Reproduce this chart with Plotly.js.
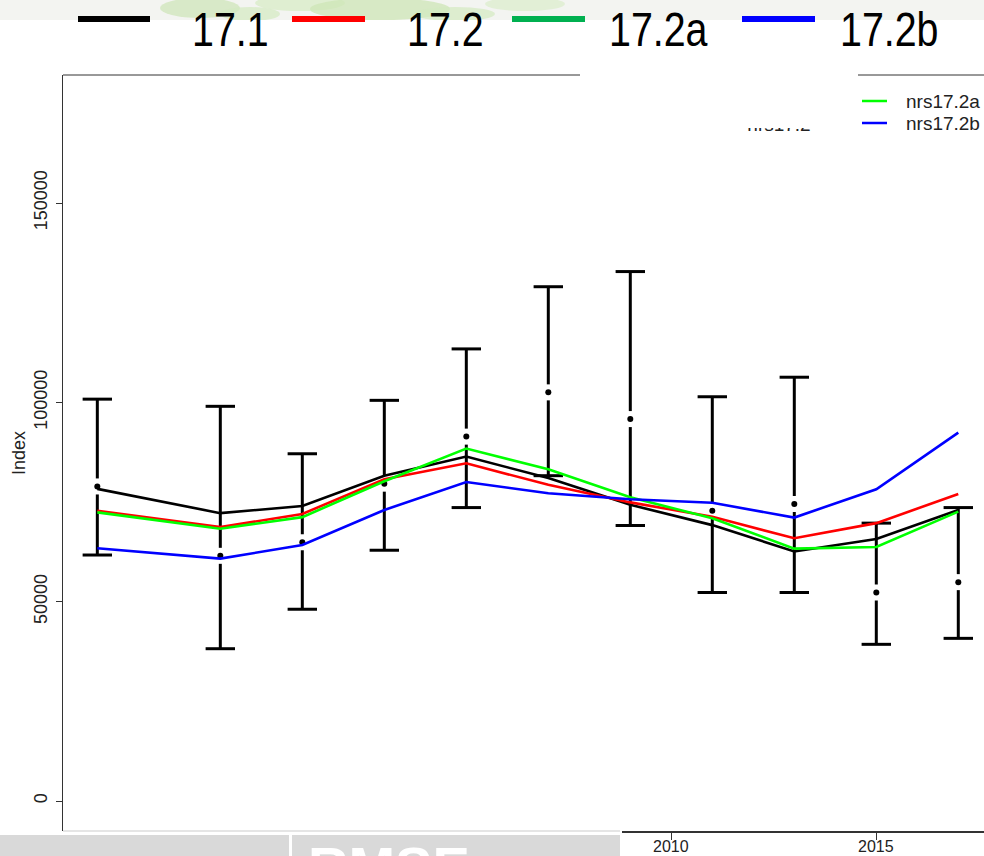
<!DOCTYPE html>
<html>
<head>
<meta charset="utf-8">
<script src="https://cdn.plot.ly/plotly-3.0.1.min.js"></script>
<style>html,body{margin:0;padding:0;background:#fff;}#chart{width:984px;height:856px;}</style>
</head>
<body>
<div id="chart"></div>
<script>
// ---------------- data ----------------
const years      = [1996, 1999, 2001, 2003, 2005, 2007, 2009, 2011, 2013, 2015, 2017];
const s171       = [78300, 72200, 74000, 81600, 86400, 81000, 74300, 69200, 62600, 65700, 73000];
const s172       = [72800, 68700, 72000, 80700, 84700, 79300, 74900, 71300, 65900, 69700, 77000];
const s172a      = [72400, 68300, 71200, 80200, 88400, 83200, 76200, 70900, 63300, 63700, 72600];
const s172b      = [63400, 60800, 64200, 73000, 80000, 77200, 75700, 74800, 71100, 78200, 92400];
const obsIndex   = [78900, 61500, 64900, 79600, 91400, 102500, 95800, 72800, 74500, 52300, 54900];
const obsUpper   = [100800, 99000, 87100, 100500, 113400, 129000, 132800, 101400, 106300, 69700, 73600];
const obsLower   = [61700, 38200, 48100, 62900, 73600, 81600, 69100, 52300, 52300, 39300, 40800];
const yTickVals  = [0, 50000, 100000, 150000];
const yTickText  = ['0', '50000', '100000', '150000'];
const xTickVals  = [2010, 2015];
const xTickText  = ['2010', '2015'];
const topLegendNames  = ['17.1', '17.2', '17.2a', '17.2b'];
const topLegendColors = ['#000000', '#ff0000', '#00b050', '#0000ff'];
const rLegendNames    = ['nrs17.2a', 'nrs17.2b'];
const rLegendColors   = ['#00ff00', '#0000ff'];
const hiddenLegendName = 'nrs17.2';
const panelLabel = 'RMSE';

// ---------------- geometry ----------------
const W = 984, H = 856, ML = 63, MR = 0, MT = 75, MB = 25;
const plotW = W - ML - MR, plotH = H - MT - MB;
const xRange = [1995.163, 2017.627];
const yRange = [-7525, 182108];
const xp = px => (px - ML) / plotW;
const yp = py => (H - MB - py) / plotH;
const pxPerYear = plotW / (xRange[1] - xRange[0]);
const unitsPerPx = (yRange[1] - yRange[0]) / plotH;
const gap = 8 * unitsPerPx;

const FONT = 'Liberation Sans, Arial, Helvetica, sans-serif';

// error-bar stems with a gap around the point
const ebX = [], ebY = [];
years.forEach((yr, i) => {
  ebX.push(yr, yr, null, yr, yr, null);
  ebY.push(obsIndex[i] + gap, obsUpper[i], null, obsIndex[i] - gap, obsLower[i], null);
});

const traces = [
  {x: ebX, y: ebY, mode: 'lines', line: {color: '#000', width: 3}, connectgaps: false,
   showlegend: false, hoverinfo: 'skip'},
  {x: years.concat(years), y: obsUpper.concat(obsLower), mode: 'markers',
   marker: {symbol: 'line-ew', size: 21, color: '#000', line: {color: '#000', width: 3}},
   showlegend: false, hoverinfo: 'skip'},
  {x: years, y: obsIndex, mode: 'markers', marker: {symbol: 'circle', size: 6, color: '#000'},
   showlegend: false},
  {x: years, y: s171, mode: 'lines', line: {color: '#000000', width: 2.6}, name: '17.1', showlegend: false},
  {x: years, y: s172, mode: 'lines', line: {color: '#ff0000', width: 2.6}, name: 'nrs17.2', showlegend: false},
  {x: years, y: s172a, mode: 'lines', line: {color: '#00ff00', width: 2.6}, name: 'nrs17.2a', showlegend: false},
  {x: years, y: s172b, mode: 'lines', line: {color: '#0000ff', width: 2.6}, name: 'nrs17.2b', showlegend: false},
  {x: [xTickVals[0]], y: [null], xaxis: 'x2', yaxis: 'y', mode: 'markers', showlegend: false, hoverinfo: 'skip'},
  {x: [0.5], y: [1.12], xaxis: 'x3', yaxis: 'y3', mode: 'text', text: [hiddenLegendName],
   textposition: 'middle center', textfont: {family: FONT, size: 19, color: '#222'},
   cliponaxis: true, showlegend: false, hoverinfo: 'skip'}
];

const shapes = [];
const annotations = [];
function rect(x0, y0, x1, y1, fill) {
  shapes.push({type: 'rect', xref: 'paper', yref: 'paper',
    x0: xp(x0), x1: xp(x1), y0: yp(y1), y1: yp(y0), fillcolor: fill, line: {width: 0}, layer: 'below'});
}
function hline(x0, x1, y, color, width) {
  shapes.push({type: 'line', xref: 'paper', yref: 'paper', x0: xp(x0), x1: xp(x1), y0: yp(y), y1: yp(y),
    line: {color: color, width: width}});
}
function blob(cx, cy, rx, ry, fill, op) {
  shapes.push({type: 'circle', xref: 'paper', yref: 'paper', x0: xp(cx - rx), x1: xp(cx + rx),
    y0: yp(cy + ry), y1: yp(cy - ry), fillcolor: fill, opacity: op, line: {width: 0}, layer: 'below'});
}

// top banner background (faded map)
rect(0, 0, 984, 20, '#f3f4f1');
blob(200, 8, 40, 10, '#cfe6b9', 0.75);
blob(250, 14, 30, 7, '#d3e9c0', 0.7);
blob(300, 3, 45, 8, '#d6ebc3', 0.7);
blob(380, 9, 70, 11, '#cde6b6', 0.75);
blob(455, 14, 40, 7, '#d3e9c0', 0.7);
blob(525, 4, 40, 7, '#d8ecc8', 0.65);
rect(0, 20, 984, 60, '#ffffff');

// top legend (annotation indices 0..3)
const topLineX = [[78, 150], [292, 365], [512, 585], [742, 815]];
const topTextX = [190, 405, 607, 838];
topLegendNames.forEach((nm, i) => {
  hline(topLineX[i][0], topLineX[i][1], 19, topLegendColors[i], 6);
  annotations.push({xref: 'paper', yref: 'paper', x: xp(topTextX[i]), y: yp(30), xanchor: 'left', yanchor: 'middle',
    text: nm, showarrow: false, font: {family: FONT, size: 48, color: '#000'}});
});

// frame pieces
hline(63, 580, 75, '#333', 1);
hline(858, 984, 75, '#333', 1);
hline(63, 620, 831, '#dcdcdc', 1.5);

// R legend at top right
const rLegY = [101, 123];
rLegendNames.forEach((nm, i) => {
  hline(862, 887, rLegY[i], rLegendColors[i], 2.5);
  annotations.push({xref: 'paper', yref: 'paper', x: xp(904), y: yp(rLegY[i]), xanchor: 'left', yanchor: 'middle',
    text: nm, showarrow: false, font: {family: FONT, size: 19, color: '#222'}});
});

// bottom axis tick labels
xTickVals.forEach((v, i) => {
  annotations.push({xref: 'x2', yref: 'paper', x: v, y: yp(846), xanchor: 'center', yanchor: 'middle',
    text: xTickText[i], showarrow: false, font: {family: FONT, size: 16, color: '#222'}});
});

// bottom grey panels
rect(0, 835, 289, 870, '#d9d9d9');
rect(292, 835, 620, 870, '#d9d9d9');
annotations.push({xref: 'paper', yref: 'paper', x: xp(389), y: yp(866), xanchor: 'center', yanchor: 'middle',
  text: '<b>' + panelLabel + '</b>', showarrow: false, font: {family: FONT, size: 56, color: '#ffffff'}});

// y axis title
annotations.push({xref: 'paper', yref: 'paper', x: xp(19), y: yp(453), xanchor: 'center', yanchor: 'middle',
  text: 'Index', textangle: -90, showarrow: false, font: {family: FONT, size: 18, color: '#222'}});

const layout = {
  width: W, height: H,
  margin: {l: ML, r: MR, t: MT, b: MB, pad: 0},
  paper_bgcolor: '#ffffff', plot_bgcolor: 'rgba(0,0,0,0)',
  showlegend: false,
  font: {family: FONT, color: '#222'},
  xaxis: {range: xRange, visible: false, showgrid: false, zeroline: false, fixedrange: true},
  xaxis2: {domain: [xp(622), 1], range: [xRange[0] + (622 - ML) / pxPerYear, xRange[1]], anchor: 'y',
    tickvals: xTickVals, ticktext: xTickText, showticklabels: false, ticks: 'outside', ticklen: 7,
    tickcolor: '#333', tickwidth: 1, showline: true, linecolor: '#333', linewidth: 1.5,
    showgrid: false, zeroline: false, automargin: false},
  yaxis: {range: yRange, tickvals: yTickVals, ticktext: yTickText, tickangle: -90,
    ticks: 'outside', ticklen: 6, tickcolor: '#333', tickwidth: 1,
    showline: true, linecolor: '#333', linewidth: 1, showgrid: false, zeroline: false,
    tickfont: {family: FONT, size: 18, color: '#222'}, automargin: false, ticklabelstandoff: 2},
  xaxis3: {domain: [xp(700), xp(858)], range: [0, 1], anchor: 'y3', visible: false},
  yaxis3: {domain: [yp(141), yp(128)], range: [0, 1], anchor: 'x3', visible: false},
  shapes: shapes,
  annotations: annotations
};

Plotly.newPlot('chart', traces, layout, {displayModeBar: false, staticPlot: true}).then(gd => {
  // render the top legend labels in a narrow (condensed) face, keeping the left edge
  const NARROW_FACTOR = 0.82;
  gd.querySelectorAll('.annotation').forEach(g => {
    const idx = parseInt(g.getAttribute('data-index'), 10);
    if (idx >= 0 && idx < topLegendNames.length) {
      const t = g.querySelector('.annotation-text');
      if (!t) return;
      const w = t.getComputedTextLength();
      const x = parseFloat(t.getAttribute('x')) || 0;
      t.setAttribute('text-anchor', 'start');
      t.setAttribute('x', x - w / 2);
      t.setAttribute('textLength', (w * NARROW_FACTOR).toFixed(1));
      t.setAttribute('lengthAdjust', 'spacingAndGlyphs');
    }
  });
});
</script>
</body>
</html>
